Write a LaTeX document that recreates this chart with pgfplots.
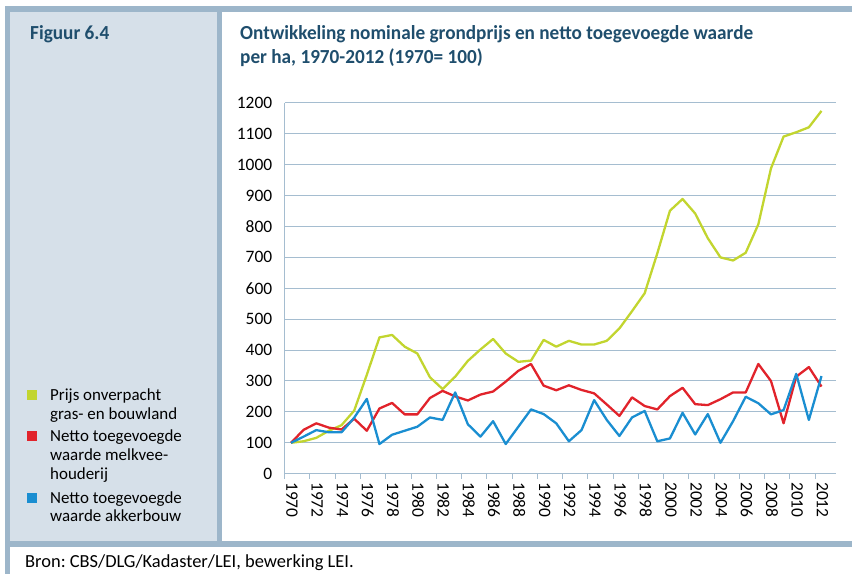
\documentclass[border=0pt]{standalone}
\usepackage{fontspec}
\setmainfont{Carlito}
\newfontfamily\titlefont[FakeStretch=0.965]{Carlito}
\usepackage{pgfplots}
\usepackage{pgfplotstable}
\pgfplotsset{compat=1.18}
\definecolor{framec}{HTML}{9DB6CA}
\definecolor{panelc}{HTML}{D6E0E9}
\definecolor{gridc}{HTML}{A5BDD0}
\definecolor{titlec}{HTML}{1F4E6D}
\definecolor{cgreen}{HTML}{C2D52F}
\definecolor{cred}{HTML}{E1232B}
\definecolor{cblue}{HTML}{1A8ED1}

\pgfplotstableread{
year grond melk akker
1970 100 100 100
1971 105 142 120
1972 116 163 141
1973 139 149 134
1974 157 143 134
1975 204 178 181
1976 320 139 242
1977 441 211 96
1978 449 229 126
1979 411 192 139
1980 389 192 152
1981 312 245 182
1982 274 268 174
1983 314 250 263
1984 365 237 160
1985 402 256 120
1986 436 266 170
1987 389 298 96
1988 362 333 152
1989 366 355 208
1990 433 285 193
1991 411 270 163
1992 430 286 105
1993 418 271 141
1994 418 260 238
1995 430 224 174
1996 470 187 122
1997 526 247 182
1998 584 219 203
1999 713 208 105
2000 851 251 114
2001 889 278 197
2002 842 225 127
2003 762 222 193
2004 700 241 100
2005 690 263 170
2006 715 263 249
2007 807 355 228
2008 988 300 192
2009 1091 163 206
2010 1105 314 323
2011 1121 345 174
2012 1174 282 316
}\datatable

\begin{document}
\frenchspacing
\begin{tikzpicture}[x=1bp,y=1bp]
\useasboundingbox (0,0) rectangle (852,574);
% frame
\fill[panelc] (10,33) rectangle (217,562);
\fill[framec] (5,562) rectangle (852,568);
\fill[framec] (5,0) rectangle (10,568);
\fill[framec] (217,33) rectangle (222,562);
\fill[framec] (5,27) rectangle (852,33);
% headings
\node[anchor=base west, inner sep=0pt, text=titlec, font=\titlefont\bfseries\fontsize{20}{24}\selectfont] at (30,534) {Figuur 6.4};
\node[anchor=base west, inner sep=0pt, text=titlec, font=\titlefont\bfseries\fontsize{20}{24}\selectfont] at (240,534) {Ontwikkeling nominale grondprijs en netto toegevoegde waarde};
\node[anchor=base west, inner sep=0pt, text=titlec, font=\titlefont\bfseries\fontsize{20}{24}\selectfont] at (240,510) {per ha, 1970-2012 (1970= 100)};
% legend
\fill[cgreen] (27,174) rectangle (37,184);
\fill[cred] (27,133) rectangle (37,143);
\fill[cblue] (27,71) rectangle (37,81);
\begin{scope}[every node/.style={anchor=base west, inner sep=0pt, font=\fontsize{17}{19}\selectfont}]
\node at (50,173) {Prijs onverpacht};
\node at (50,154.5) {gras- en bouwland};
\node at (50,132) {Netto toegevoegde};
\node at (50,113) {waarde melkvee-};
\node at (50,94) {houderij};
\node at (50,70.5) {Netto toegevoegde};
\node at (50,52) {waarde akkerbouw};
\end{scope}
% footer
\node[anchor=base west, inner sep=0pt, font=\fontsize{18.5}{20}\selectfont] at (25,6.5) {Bron: CBS/DLG/Kadaster/LEI, bewerking LEI.};

\begin{axis}[
  at={(284.7bp,100.3bp)}, anchor=south west,
  scale only axis, width=551.3bp, height=370.8bp,
  xmin=1969.5, xmax=2013.15, ymin=0, ymax=1200,
  axis lines*=left,
  axis line style={gridc, line width=1bp},
  ymajorgrids, grid style={gridc, line width=1bp},
  ytick={0,100,...,1200},
  y tick style={draw=none},
  xtick={1969.5,1971.5,...,2011.5},
  xticklabels={1970,1972,1974,1976,1978,1980,1982,1984,1986,1988,1990,1992,1994,1996,1998,2000,2002,2004,2006,2008,2010,2012},
  x tick style={gridc, line width=1bp},
  tick align=outside, major tick length=5bp,
  tick label style={font=\fontsize{17.5}{17.5}\selectfont},
  /pgf/number format/assume math mode=true,
  /pgf/number format/1000 sep={},
  yticklabel style={xshift=-4bp},
  xticklabel style={xshift=6.3bp, rotate=-90, anchor=west, yshift=1bp},
  clip=false,
  every axis plot/.append style={line width=2.3bp, line join=round, no markers},
]
\addplot[cgreen] table[x=year, y=grond] {\datatable};
\addplot[cred] table[x=year, y=melk] {\datatable};
\addplot[cblue] table[x=year, y=akker] {\datatable};
\end{axis}
\end{tikzpicture}
\end{document}
